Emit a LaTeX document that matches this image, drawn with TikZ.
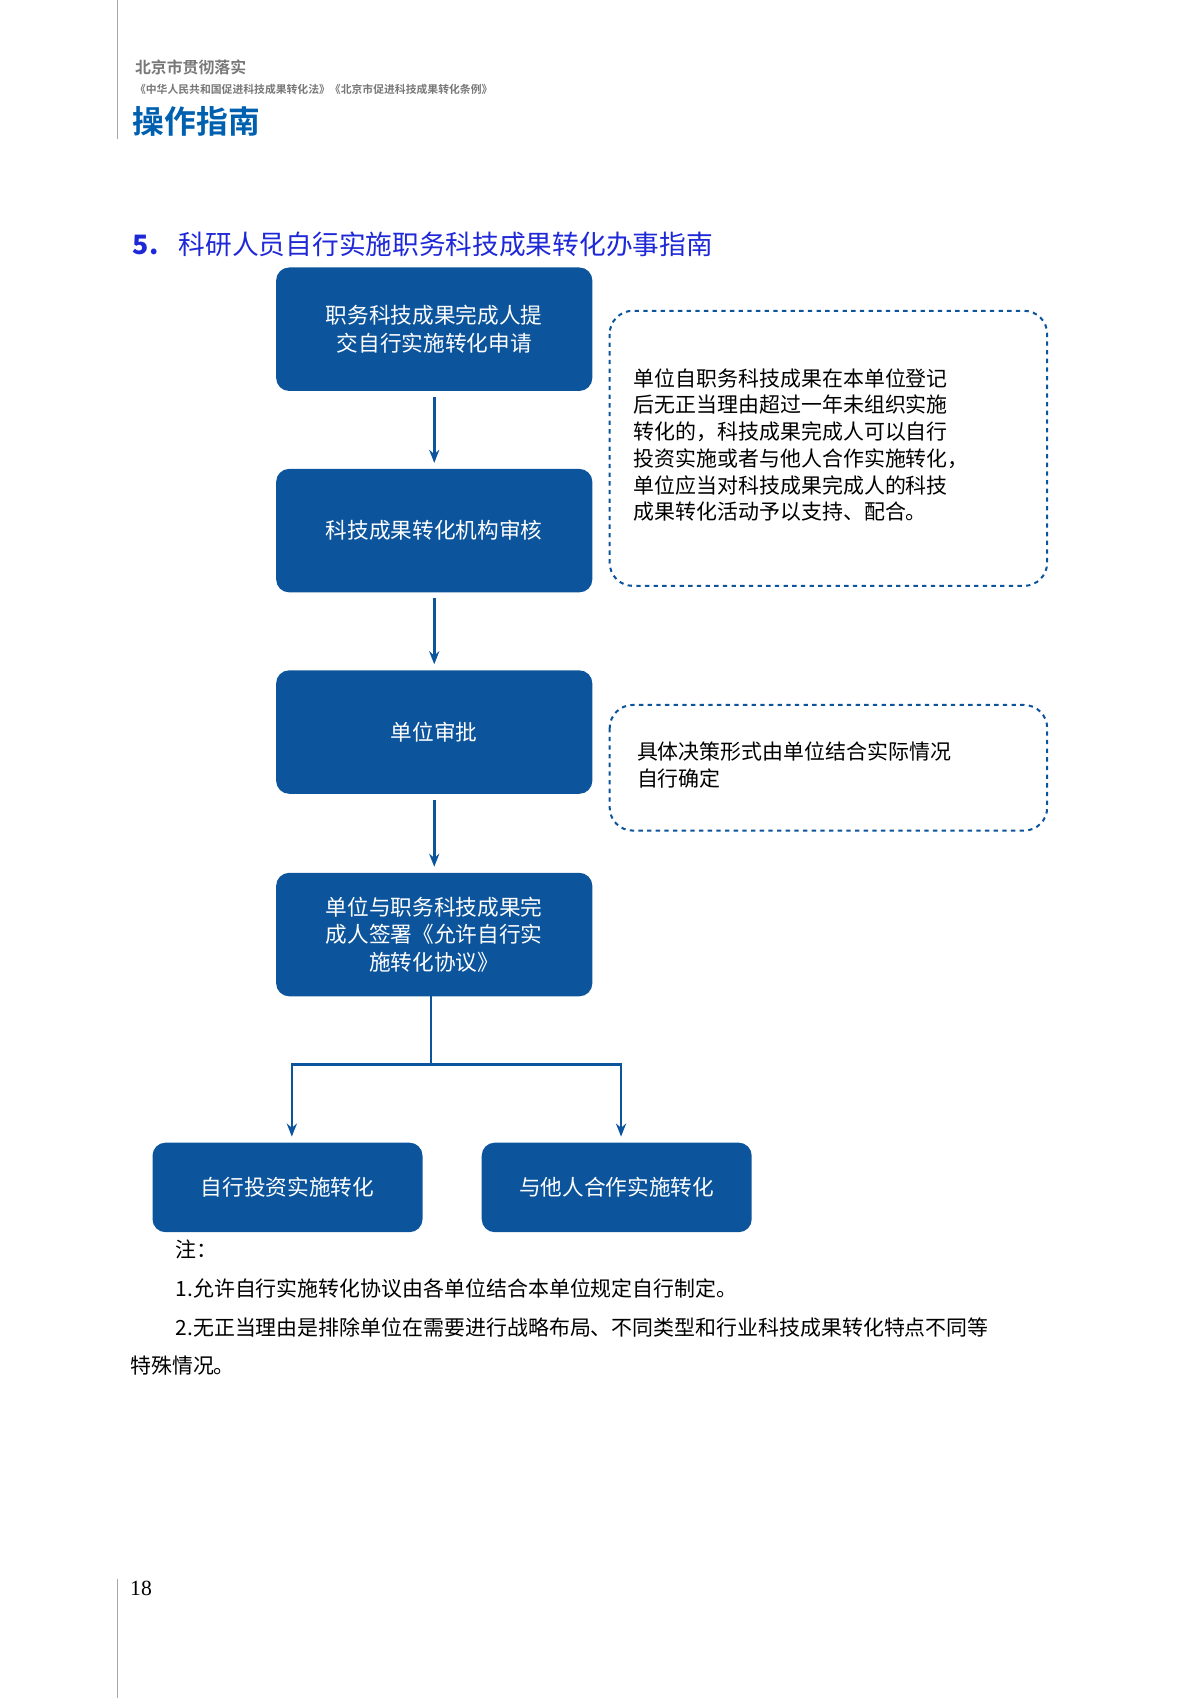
\documentclass[tikz,border=0pt]{standalone}
\usetikzlibrary{arrows.meta}
\usepackage{fontspec}
\setmainfont{Noto Sans CJK SC}
\newfontfamily\cjk{Noto Sans CJK SC}
\newfontfamily\cjkb{Noto Sans CJK SC Bold}
\newfontfamily\serifl{Liberation Serif}
\definecolor{boxblue}{RGB}{12,84,155}
\definecolor{hdrblue}{RGB}{0,96,176}
\definecolor{ttlblue}{RGB}{30,40,215}
\definecolor{gtext}{RGB}{120,120,120}
\begin{document}
\begin{tikzpicture}[x=0.75pt,y=-0.75pt,
  bx/.style={draw=none,fill=boxblue,rounded corners=9pt,text=white,align=center,font=\cjk\fontsize{15}{19}\selectfont,inner sep=0pt},
  note/.style={draw=boxblue,dashed,line width=1.4pt,rounded corners=16pt},
  arr/.style={draw=boxblue,line width=1.8pt,-{Stealth[length=9pt,width=7pt]}},
  ln/.style={draw=boxblue,line width=1.8pt}]
\useasboundingbox (0,0) rectangle (1108,1568);
\draw[gray!70,line width=0.6pt] (108,0) -- (108,128);
\draw[gray!70,line width=0.6pt] (108,1458) -- (108,1568);
\node[anchor=west,text=gtext,font=\cjkb\fontsize{11}{13}\selectfont] (h1) at (120,62) {北京市贯彻落实};
\node[anchor=west,text=gtext,font=\cjkb\fontsize{7.5}{9}\selectfont] (h2) at (120,83) {《中华人民共和国促进科技成果转化法》《北京市促进科技成果转化条例》};
\node[anchor=west,text=hdrblue,font=\cjkb\fontsize{22}{26}\selectfont] (h3) at (118,112) {操作指南};
\node[anchor=west,text=ttlblue,font=\cjk\fontsize{18.5}{22}\selectfont] (t) at (118,226) {\textbf{5.}\hspace{14pt}科研人员自行实施职务科技成果转化办事指南};
\node[bx,minimum width=219pt,minimum height=85.5pt] (b1) at (401,304) {职务科技成果完成人提\\交自行实施转化申请};
\node[bx,minimum width=219pt,minimum height=85.5pt] (b2) at (401,490) {科技成果转化机构审核};
\node[bx,minimum width=219pt,minimum height=85.5pt] (b3) at (401,676) {单位审批};
\node[bx,minimum width=219pt,minimum height=85.5pt] (b4) at (401,863) {单位与职务科技成果完\\成人签署《允许自行实\\施转化协议》};
\node[bx,minimum width=187pt,minimum height=62pt] (b5) at (265.5,1096.5) {自行投资实施转化};
\node[bx,minimum width=187pt,minimum height=62pt] (b6) at (569.5,1096.5) {与他人合作实施转化};
\draw[note] (563,287) rectangle (967,541);
\node[anchor=north west,align=left,font=\cjk\fontsize{14.5}{18.5}\selectfont,inner sep=0pt] (n1) at (585,340) {单位自职务科技成果在本单位登记\\后无正当理由超过一年未组织实施\\转化的，科技成果完成人可以自行\\投资实施或者与他人合作实施转化，\\单位应当对科技成果完成人的科技\\成果转化活动予以支持、配合。};
\draw[note] (563,651) rectangle (967,767);
\node[anchor=north west,align=left,font=\cjk\fontsize{14.5}{18.5}\selectfont,inner sep=0pt] (n2) at (588,685) {具体决策形式由单位结合实际情况\\自行确定};
\draw[arr] ([yshift=-4pt]b1.south) -- ([yshift=4pt]b2.north);
\draw[arr] ([yshift=-4pt]b2.south) -- ([yshift=4pt]b3.north);
\draw[arr] ([yshift=-4pt]b3.south) -- ([yshift=4pt]b4.north);
\coordinate (sp) at (398,983);
\draw[ln] (398,920) -- (sp);
\draw[arr] (sp) -| ([xshift=3pt,yshift=4pt]b5.north);
\draw[arr] (sp) -| ([xshift=3pt,yshift=4pt]b6.north);
\begin{scope}[font=\cjk\fontsize{14.5}{18}\selectfont]
\node[anchor=west,inner sep=0pt] (z0) at (162,1154) {注：};
\node[anchor=west,inner sep=0pt] (z1) at (162,1190) {1.允许自行实施转化协议由各单位结合本单位规定自行制定。};
\node[anchor=west,inner sep=0pt] (z2) at (162,1226) {2.无正当理由是排除单位在需要进行战略布局、不同类型和行业科技成果转化特点不同等};
\node[anchor=west,inner sep=0pt] (z3) at (120,1261) {特殊情况。};
\end{scope}
\node[anchor=west,inner sep=0pt,font=\serifl\fontsize{15}{18}\selectfont] (pg) at (120,1467) {18};
\end{tikzpicture}
\end{document}
